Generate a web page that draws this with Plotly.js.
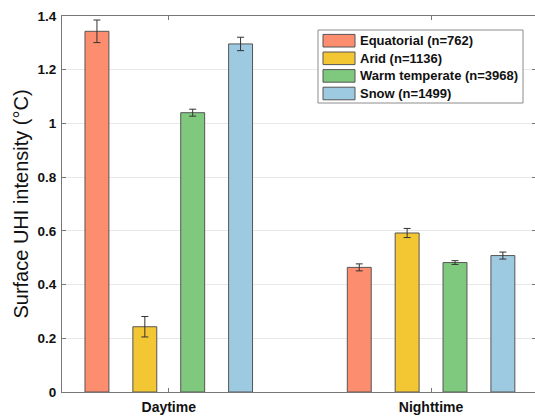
<!DOCTYPE html>
<html><head><meta charset="utf-8">
<script src="https://cdn.plot.ly/plotly-3.0.1.min.js"></script>
<style>html,body{margin:0;padding:0;overflow:hidden;background:#fff}#chart{width:537px;height:416px}</style>
</head><body><div id="chart"></div>
<script>
const periods = ['Daytime', 'Nighttime'];
const seriesNames = ['Equatorial (n=762)', 'Arid (n=1136)', 'Warm temperate (n=3968)', 'Snow (n=1499)'];
const seriesColors = ['#FC8D6E', '#F2C733', '#7FC97F', '#9ECAE1'];
const equatorial = [1.343, 0.464];
const arid = [0.243, 0.592];
const warmTemperate = [1.040, 0.482];
const snow = [1.296, 0.508];
const equatorialErr = [0.042, 0.013];
const aridErr = [0.038, 0.017];
const warmTemperateErr = [0.013, 0.007];
const snowErr = [0.025, 0.013];
const yTicks = [0, 0.2, 0.4, 0.6, 0.8, 1, 1.2, 1.4];
const yTickText = ['0', '0.2', '0.4', '0.6', '0.8', '1', '1.2', '1.4'];

const values = [equatorial, arid, warmTemperate, snow];
const errs = [equatorialErr, aridErr, warmTemperateErr, snowErr];

const traces = values.map((v, i) => ({
  type: 'bar', x: periods, y: v, name: seriesNames[i],
  marker: {color: seriesColors[i], line: {color: '#555555', width: 1}},
  error_y: {type: 'data', array: errs[i], visible: true, color: '#333333', thickness: 1, width: 3.5},
  showlegend: false, hoverinfo: 'skip'
}));

// legend built from series arrays
const shapes = [];
const annotations = [];
const W = 537, H = 416;
const pl = 62, pr = 1, pt = 16, pb = 24;
const pw = W - pl - pr, ph = H - pt - pb;
const px = x => (x - pl) / pw;
const py = y => 1 - (y - pt) / ph;
shapes.push({type: 'rect', xref: 'paper', yref: 'paper', x0: px(318), x1: px(523), y0: py(30), y1: py(103),
  line: {color: '#8c8c8c', width: 1}, fillcolor: '#ffffff', layer: 'above'});
seriesNames.forEach((n, i) => {
  const cy = 40.7 + i * 17.6;
  shapes.push({type: 'rect', xref: 'paper', yref: 'paper', x0: px(323), x1: px(355), y0: py(cy - 6.3), y1: py(cy + 6.3),
    line: {color: '#555555', width: 1}, fillcolor: seriesColors[i], layer: 'above'});
  annotations.push({xref: 'paper', yref: 'paper', x: px(358), y: py(cy), xanchor: 'left', yanchor: 'middle',
    text: n, showarrow: false, font: {family: 'Liberation Sans, Arial, sans-serif', size: 13, color: '#111111', weight: 'bold'}});
});

const layout = {
  width: W, height: H,
  margin: {l: pl, r: pr, t: pt, b: pb, pad: 0},
  paper_bgcolor: '#ffffff', plot_bgcolor: '#ffffff',
  barmode: 'group', bargap: 0.27, bargroupgap: 0.5,
  font: {family: 'Liberation Sans, Arial, sans-serif', color: '#111111'},
  xaxis: {
    type: 'category', range: [-0.407, 1.4], showgrid: false,
    showline: true, linecolor: '#777777', linewidth: 1, mirror: 'ticks',
    ticks: 'inside', ticklen: 4, tickcolor: '#777777', ticklabelstandoff: 2,
    tickfont: {size: 14, weight: 'bold', color: '#111111'}, zeroline: false, fixedrange: true
  },
  yaxis: {
    range: [0, 1.4], tickvals: yTicks, ticktext: yTickText,
    showgrid: true, gridcolor: '#e8e8e8', gridwidth: 1,
    showline: true, linecolor: '#777777', linewidth: 1, mirror: 'ticks',
    ticks: 'inside', ticklen: 4, tickcolor: '#777777', ticklabelstandoff: 2,
    tickfont: {size: 13.5, weight: 'bold', color: '#111111'}, zeroline: false,
    title: {text: 'Surface UHI intensity (°C)', font: {size: 20, color: '#111111'}, standoff: 3},
    fixedrange: true
  },
  shapes: shapes, annotations: annotations, showlegend: false
};
Plotly.newPlot('chart', traces, layout, {staticPlot: true, displayModeBar: false});
</script></body></html>
